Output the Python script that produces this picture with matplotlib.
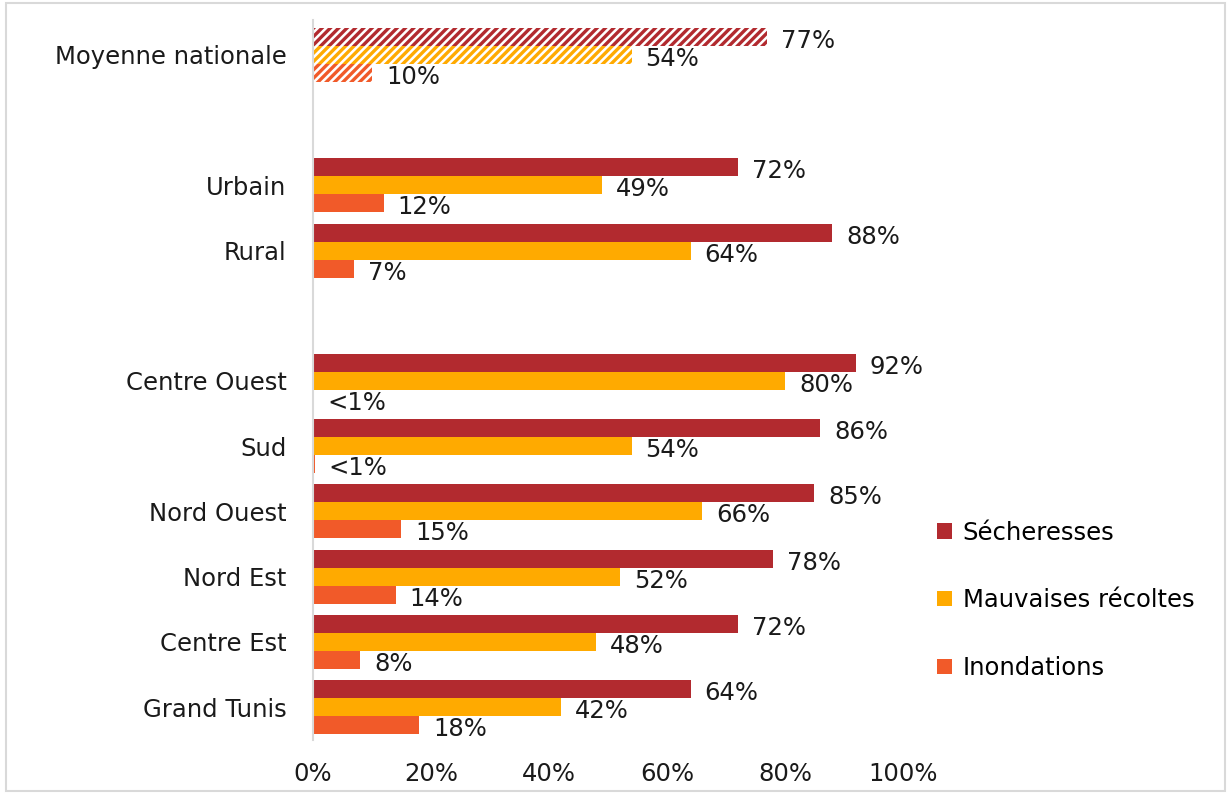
import numpy as np
import matplotlib
matplotlib.use("Agg")
from matplotlib import pyplot as plt
from matplotlib.patches import Patch, Rectangle

# groupes de catégories (un blanc entre chaque groupe)
groups = [
    ['Moyenne nationale'],
    ['Urbain', 'Rural'],
    ['Centre Ouest', 'Sud', 'Nord Ouest', 'Nord Est', 'Centre Est', 'Grand Tunis'],
]
series_names = ['Sécheresses', 'Mauvaises récoltes', 'Inondations']
secheresses = [77, 72, 88, 92, 86, 85, 78, 72, 64]
recoltes = [54, 49, 64, 80, 54, 66, 52, 48, 42]
inondations = [10, 12, 7, 0.0, 0.3, 15, 14, 8, 18]
x_ticks = [0, 20, 40, 60, 80, 100]

colors = ['#B22A2F', '#FFAA00', '#F15A29']

plt.rcParams['font.family'] = ['DejaVu Sans']
plt.rcParams['hatch.linewidth'] = 2.4
fs = 17.5

# positions des catégories
labels, pos = [], []
slot = 0
for g in groups:
    for name in g:
        labels.append(name)
        pos.append(slot)
        slot += 1
    slot += 1
pos = np.array(pos, dtype=float)

fig = plt.figure(figsize=(12.27, 7.94), dpi=100)
ax = fig.add_axes([0.2551, 0.068, 0.4808, 0.907])

h = 0.276
all_series = [secheresses, recoltes, inondations]
for k, (vals, col) in enumerate(zip(all_series, colors)):
    y = pos + (k - 1) * h
    for i, (yy, v) in enumerate(zip(y, vals)):
        if i == 0:
            ax.barh(yy, v, height=h, facecolor='white', edgecolor=col,
                    hatch='////', linewidth=0)
        else:
            ax.barh(yy, v, height=h, color=col, linewidth=0)
        txt = '<1%' if v < 1 else f'{v:.0f}%'
        ax.annotate(txt, (v, yy), xytext=(14, -4), textcoords='offset pixels',
                    ha='left', va='center', fontsize=fs, color='#1a1a1a')

ax.set_xlim(0, 100)
ax.set_ylim(10.506, -0.537)
ax.set_yticks(pos)
ax.set_yticklabels(labels, fontsize=fs, color='#1a1a1a')
ax.set_xticks(x_ticks)
ax.set_xticklabels([f'{t}%' for t in x_ticks], fontsize=fs, color='#1a1a1a')
ax.tick_params(axis='both', length=0)
ax.tick_params(axis='y', pad=19)
ax.tick_params(axis='x', pad=16)
for s in ['top', 'right', 'bottom']:
    ax.spines[s].set_visible(False)
ax.spines['left'].set_color('#D9D9D9')
ax.spines['left'].set_linewidth(1.5)

handles = [Patch(facecolor=c, edgecolor='none') for c in colors]
fig.legend(handles, series_names, loc='center left',
           bbox_to_anchor=(0.746, 0.244), frameon=False, fontsize=fs,
           handlelength=0.6, handleheight=0.6, handletextpad=0.45,
           labelspacing=1.8)

fig.patches.append(Rectangle((0.005, 0.004), 0.993, 0.992, transform=fig.transFigure,
                             fill=False, edgecolor='#D9D9D9', linewidth=1.5))

fig.savefig('out.png', dpi=100)
